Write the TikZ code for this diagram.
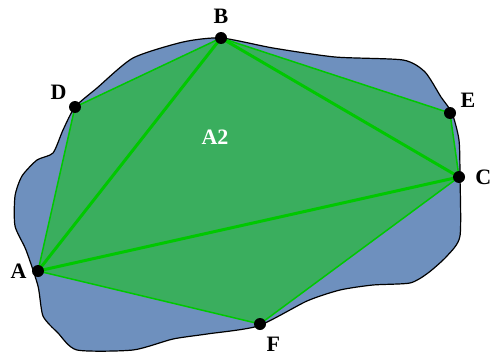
\documentclass[tikz,border=0pt]{standalone}
\usepackage{fontspec}
\setmainfont{Liberation Serif}
\usetikzlibrary{positioning}
\definecolor{blobblue}{RGB}{110,144,190}
\definecolor{hullgreen}{RGB}{58,174,94}
\definecolor{edgegreen}{RGB}{0,200,0}
\begin{document}
\begin{tikzpicture}[x=1pt, y=-1pt,
		dot/.style={circle, fill=black, inner sep=0pt, minimum size=12pt},
		lbl/.style={inner sep=0pt, font=\fontsize{22}{24}\selectfont\bfseries},
		rim/.style={edgegreen, line width=1.5pt},
		chord/.style={edgegreen, line width=3pt}]
		\useasboundingbox (0,0) rectangle (490,356);
		
		% Область
		\draw[line width=1.2pt, fill=blobblue] plot[smooth cycle, tension=0.4] coordinates {
			(221,38) (273,48) (335,57) (403,60) (425,72)
			(441,97) (452,113) (459,140) (460,176) (460,236) (447,256) (428,273)
			(410,283) (373,285) (340,290) (307,301) (258,326)
			(207,334) (173,339) (133,350) (77,350) (58,333) (43,316) (38,286)
			(26,250) (15,226) (15,196) (22,176) (37,160) (53,153)
			(63,130) (75,107) (97,88) (133,58) (183,42)};
		
		% Вершины
		\coordinate (A) at (38,271);
		\coordinate (B) at (221,38);
		\coordinate (C) at (459,177);
		\coordinate (D) at (75,107);
		\coordinate (E) at (450,113);
		\coordinate (F) at (260,324);
		
		% Многоугольник
		\fill[hullgreen] (A) -- (D) -- (B) -- (E) -- (C) -- (F) -- cycle;
		\draw[rim] (A) -- (D) -- (B) -- (E) -- (C) -- (F) -- cycle;
		\draw[chord] (A) -- (B) -- (C) -- cycle;
		
		\foreach \p in {A,B,C,D,E,F}
			\node[dot] (dot\p) at (\p) {};
		
		% Подписи
		\node[lbl, above=8pt of dotB] (labB) {B};
		\node[lbl, above left=3pt and 4pt of dotD] (labD) {D};
		\node[lbl, above right=1pt and 6pt of dotE] (labE) {E};
		\node[lbl, right=10pt of dotC] (labC) {C};
		\node[lbl, left=5pt of dotA] (labA) {A};
		\node[lbl, below right=9pt and 2pt of dotF] (labF) {F};
		\node[lbl, white] (labA2) at (215,137) {A2};
	\end{tikzpicture}
\end{document}
